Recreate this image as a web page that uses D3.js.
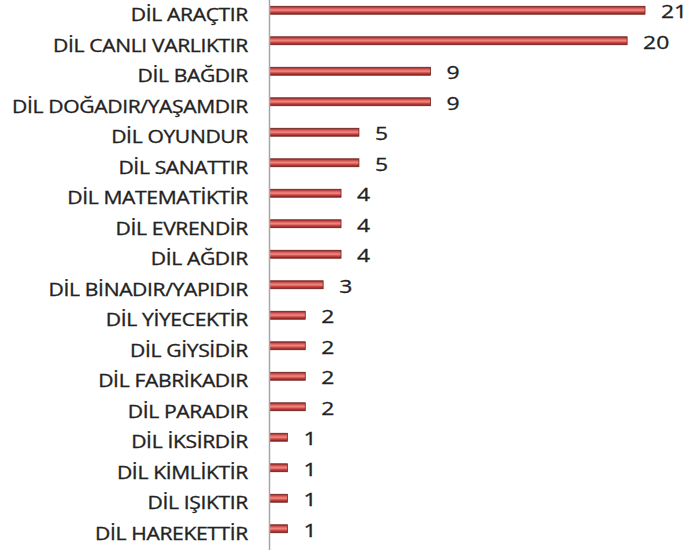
<!DOCTYPE html>
<html>
<head>
<meta charset="utf-8">
<script src="https://cdn.jsdelivr.net/npm/d3@7"></script>
<style>
  body { margin: 0; background: #fff; }
  text { font-family: "Open Sans", sans-serif; fill: #222; stroke: #222; stroke-width: 0.3; }
</style>
</head>
<body>
<svg id="chart" width="689" height="553"></svg>
<script>
// categories, top to bottom
var categories = [
  'DİL ARAÇTIR', 'DİL CANLI VARLIKTIR', 'DİL BAĞDIR', 'DİL DOĞADIR/YAŞAMDIR',
  'DİL OYUNDUR', 'DİL SANATTIR', 'DİL MATEMATİKTİR', 'DİL EVRENDİR', 'DİL AĞDIR',
  'DİL BİNADIR/YAPIDIR', 'DİL YİYECEKTİR', 'DİL GİYSİDİR', 'DİL FABRİKADIR',
  'DİL PARADIR', 'DİL İKSİRDİR', 'DİL KİMLİKTİR', 'DİL IŞIKTIR', 'DİL HAREKETTİR'
];
var counts = [21, 20, 9, 9, 5, 5, 4, 4, 4, 3, 2, 2, 2, 2, 1, 1, 1, 1];

var svg = d3.select('#chart');

var x = d3.scaleLinear().domain([0, 21]).range([269.5, 645]);
var y = d3.scaleBand().domain(categories).range([-5, 544]).paddingInner(0.74).paddingOuter(0.37);

// bar gradient (excel-ish cylinder look)
var defs = svg.append('defs');
var grad = defs.append('linearGradient')
  .attr('id', 'barGrad')
  .attr('x1', 0).attr('y1', 0).attr('x2', 0).attr('y2', 1);
[['0%', '#8a2a27'], ['30%', '#e2625e'], ['50%', '#f08a86'], ['70%', '#d24844'], ['100%', '#7a221f']]
  .forEach(function(s) {
    grad.append('stop').attr('offset', s[0]).attr('stop-color', s[1]);
  });

var rows = categories.map(function(c, i) { return { cat: c, val: counts[i] }; });

// bars
svg.append('g').selectAll('rect')
  .data(rows)
  .enter()
  .append('rect')
  .attr('x', x(0))
  .attr('y', function(d) { return y(d.cat); })
  .attr('width', function(d) { return x(d.val) - x(0); })
  .attr('height', y.bandwidth())
  .attr('fill', 'url(#barGrad)')
  .attr('stroke', '#6e1f1c')
  .attr('stroke-width', 0.8);

// axis line
svg.append('line')
  .attr('x1', x(0)).attr('x2', x(0))
  .attr('y1', 0).attr('y2', 550)
  .attr('stroke', '#a6a6a6')
  .attr('stroke-width', 1.5);

// category labels
var cats = svg.append('g').selectAll('text')
  .data(rows)
  .enter()
  .append('text')
  .attr('text-anchor', 'end')
  .attr('dominant-baseline', 'middle')
  .attr('font-size', 17.5)
  .attr('letter-spacing', -0.3)
  .text(function(d) { return d.cat; });

// stretch horizontally so widths match the reference
var refW = cats.filter(function(d) { return d.cat === 'DİL CANLI VARLIKTIR'; }).node().getComputedTextLength();
var k = 195 / refW;
cats.attr('transform', function(d) {
  var cy = y(d.cat) + y.bandwidth() / 2 + 6.5;
  return 'translate(248,' + cy + ') scale(' + k + ',1)';
});

// value labels
svg.append('g').selectAll('text')
  .data(rows)
  .enter()
  .append('text')
  .attr('text-anchor', 'start')
  .attr('dominant-baseline', 'middle')
  .attr('font-size', 19)
  .attr('transform', function(d) {
    var cy = y(d.cat) + y.bandwidth() / 2 + 3;
    return 'translate(' + (x(d.val) + 16) + ',' + cy + ') scale(' + k + ',1)';
  })
  .text(function(d) { return d.val; });
</script>
</body>
</html>
